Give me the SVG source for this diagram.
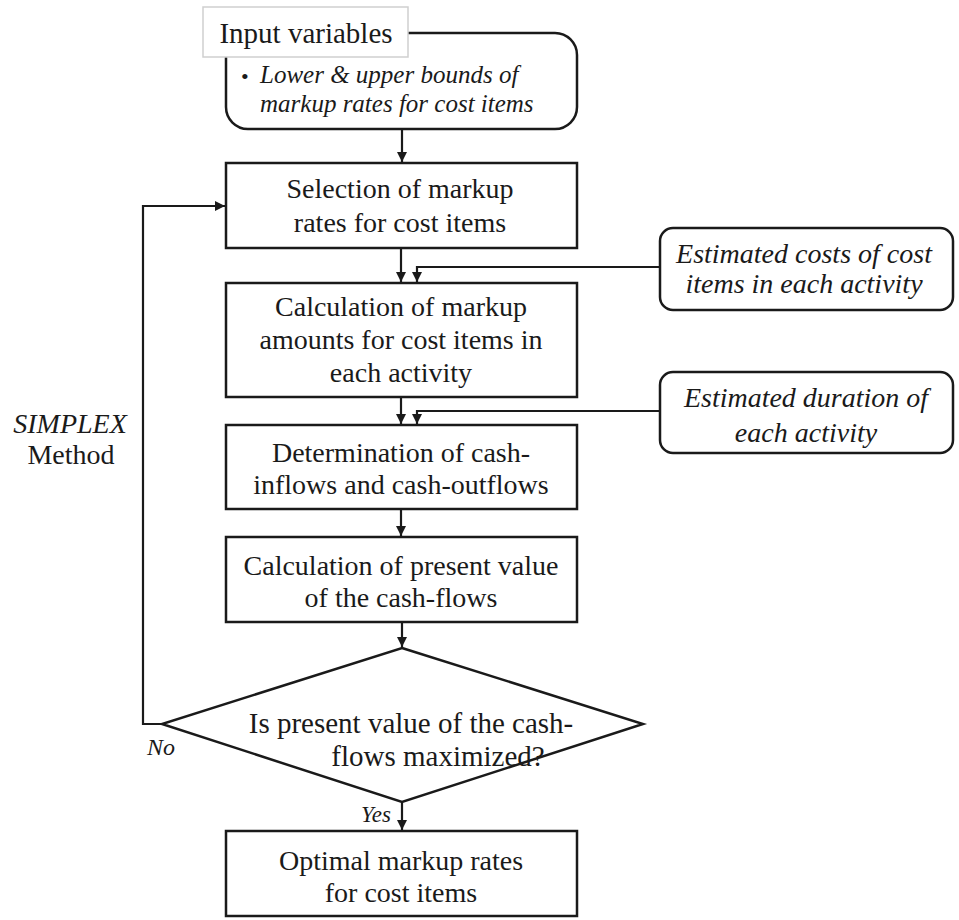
<svg xmlns="http://www.w3.org/2000/svg" width="959" height="920" viewBox="0 0 959 920">
<defs>
<style>
.box{fill:#fff;stroke:#1a1a1a;stroke-width:2.5}
.rbox{fill:#fff;stroke:#1a1a1a;stroke-width:2.5}
.ln{fill:none;stroke:#1a1a1a;stroke-width:2.2}
text{font-family:"Liberation Serif","Times New Roman",serif;fill:#1a1a1a}
.t{font-size:28px;text-anchor:middle}
.i{font-style:italic}
.c{text-anchor:middle}
</style>
<marker id="ah" markerUnits="userSpaceOnUse" markerWidth="10" markerHeight="12" refX="10" refY="5" orient="auto" viewBox="0 0 10 10">
<path d="M0,0 L10,5 L0,10 z" fill="#1a1a1a"/>
</marker>
</defs>
<rect width="959" height="920" fill="#fff"/>
<g id="connectors">
<line class="ln" x1="402" y1="129" x2="402" y2="162" marker-end="url(#ah)"/>
<line class="ln" x1="401" y1="248" x2="401" y2="282" marker-end="url(#ah)"/>
<polyline class="ln" points="660,267 417,267 417,282" marker-end="url(#ah)"/>
<line class="ln" x1="401" y1="397" x2="401" y2="424" marker-end="url(#ah)"/>
<polyline class="ln" points="660,411 417,411 417,424" marker-end="url(#ah)"/>
<line class="ln" x1="401" y1="509" x2="401" y2="536" marker-end="url(#ah)"/>
<line class="ln" x1="402" y1="622" x2="402" y2="647" marker-end="url(#ah)"/>
<line class="ln" x1="402" y1="802" x2="402" y2="830" marker-end="url(#ah)"/>
<polyline class="ln" points="163,724 143,724 143,206 225,206" marker-end="url(#ah)"/>
</g>
<g id="input">
<rect class="rbox" x="226" y="33" width="351" height="96" rx="22"/>
<rect x="203" y="7" width="205" height="50" fill="#fff" stroke="#cfcfcf" stroke-width="1.5"/>
<text x="306" y="43" class="t" style="font-size:29px">Input variables</text>
<text x="241" y="84" style="font-size:22px">•</text>
<text x="260" y="83" class="i" style="font-size:25px">Lower &amp; upper bounds of</text>
<text x="260" y="112" class="i" style="font-size:25px">markup rates for cost items</text>
</g>
<g id="selection">
<rect class="box" x="226" y="163" width="351" height="85"/>
<text x="400" y="198" class="t">Selection of markup</text>
<text x="400" y="232" class="t">rates for cost items</text>
</g>
<g id="est-costs">
<rect class="rbox" x="660" y="228" width="293" height="82" rx="13"/>
<text x="804" y="263" class="t i">Estimated costs of cost</text>
<text x="804" y="293" class="t i">items in each activity</text>
</g>
<g id="calc-markup">
<rect class="box" x="226" y="283" width="351" height="114"/>
<text x="401" y="316" class="t">Calculation of markup</text>
<text x="401" y="349" class="t">amounts for cost items in</text>
<text x="401" y="382" class="t">each activity</text>
</g>
<g id="est-duration">
<rect class="rbox" x="660" y="372" width="293" height="81" rx="13"/>
<text x="806" y="407" class="t i">Estimated duration of</text>
<text x="806" y="442" class="t i">each activity</text>
</g>
<g id="cashflows">
<rect class="box" x="226" y="425" width="351" height="84"/>
<text x="401" y="462" class="t">Determination of cash-</text>
<text x="401" y="494" class="t">inflows and cash-outflows</text>
</g>
<g id="present-value">
<rect class="box" x="226" y="537" width="351" height="85"/>
<text x="401" y="575" class="t">Calculation of present value</text>
<text x="401" y="607" class="t">of the cash-flows</text>
</g>
<g id="decision">
<polygon class="box" points="402,648 643,724 402,802 162,724"/>
<text x="411" y="733" class="t" style="font-size:29px">Is present value of the cash-</text>
<text x="438" y="766" class="t" style="font-size:29px">flows maximized?</text>
<text x="161" y="755" class="i c" style="font-size:24px">No</text>
<text x="376" y="822" class="i c" style="font-size:23px">Yes</text>
</g>
<g id="optimal">
<rect class="box" x="226" y="831" width="351" height="85"/>
<text x="401" y="870" class="t">Optimal markup rates</text>
<text x="401" y="902" class="t">for cost items</text>
</g>
<g id="simplex">
<text x="70" y="433" class="t i">SIMPLEX</text>
<text x="71" y="464" class="t">Method</text>
</g>
</svg>
